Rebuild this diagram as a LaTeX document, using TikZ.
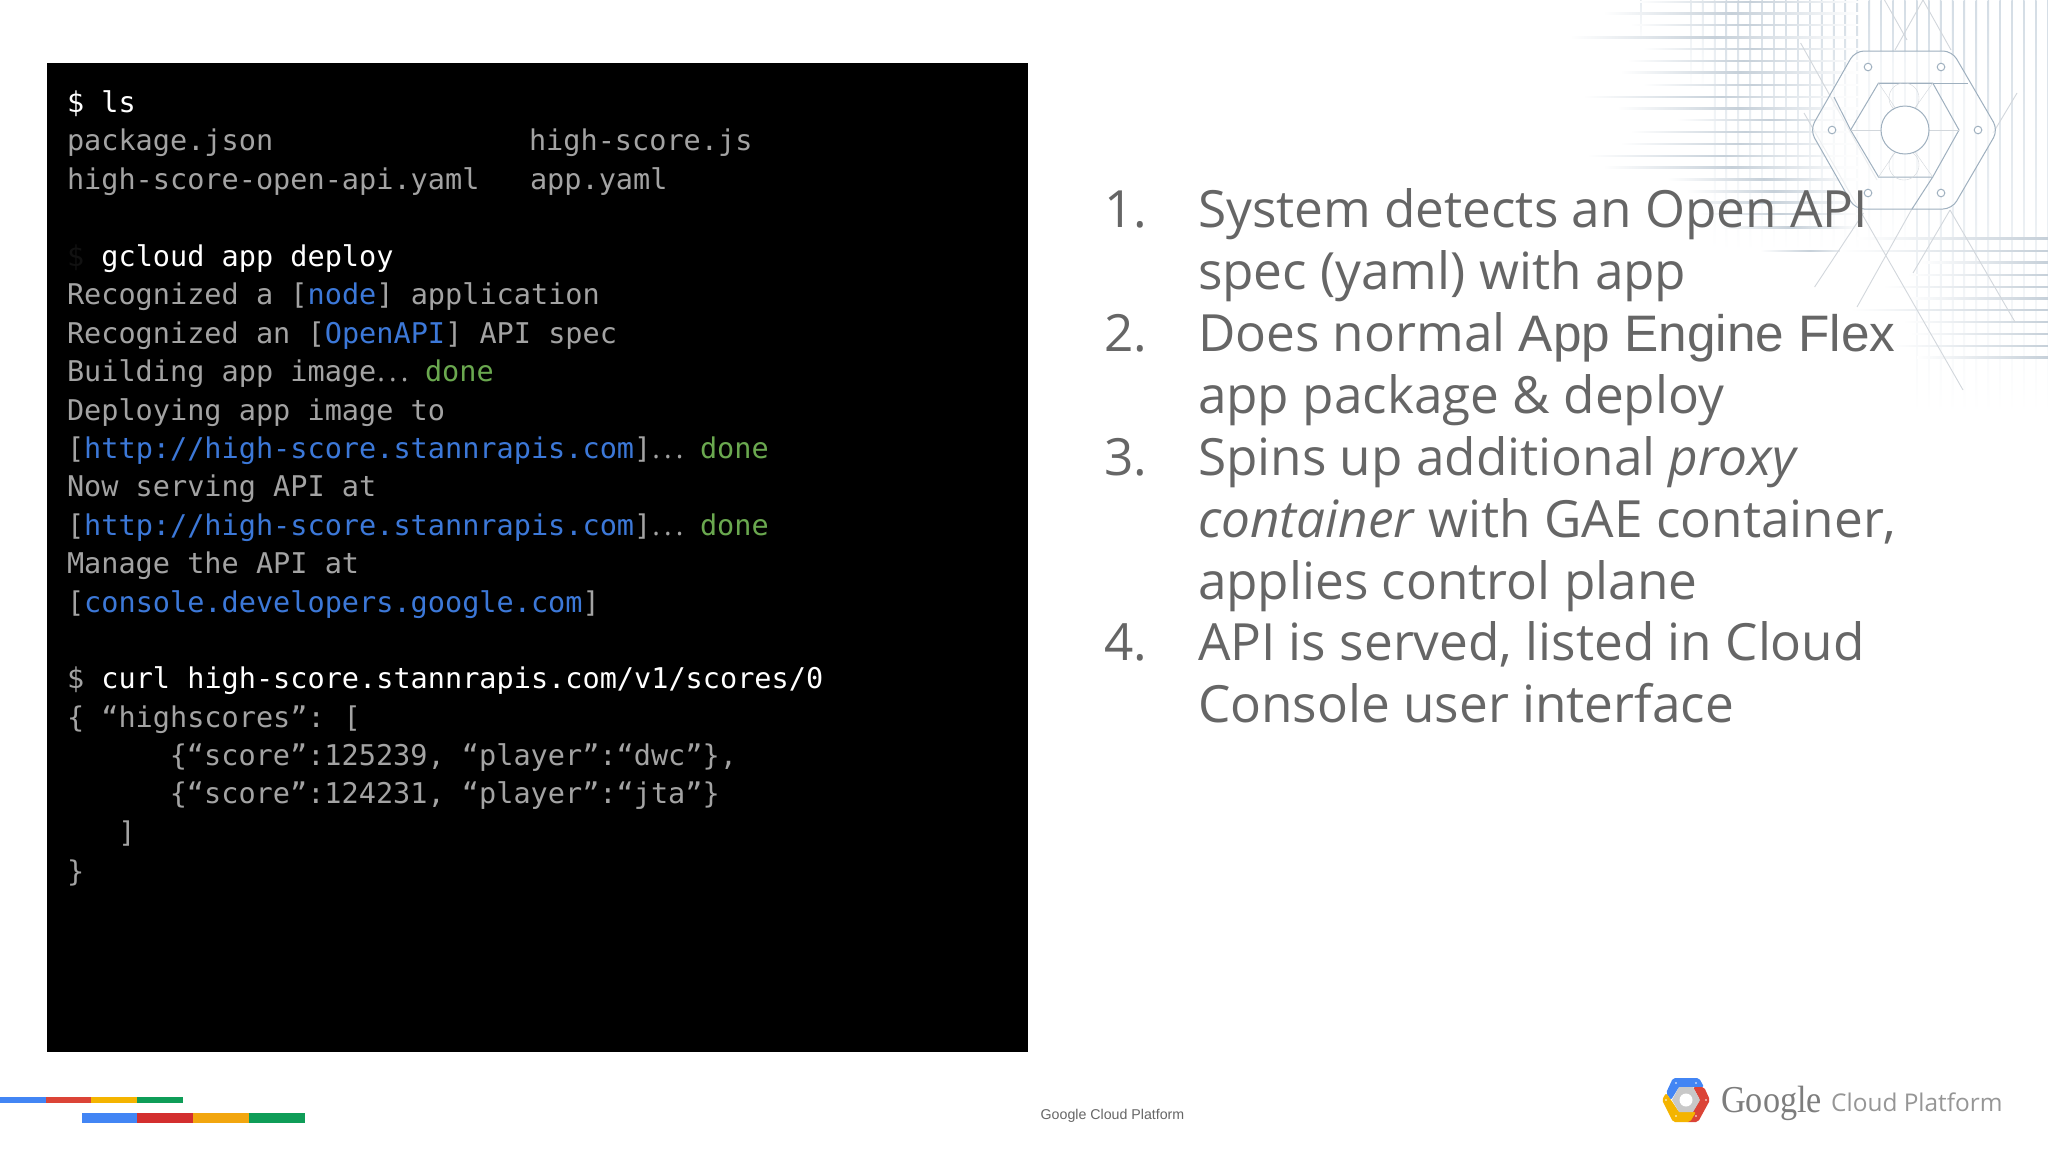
\documentclass[tikz,border=0pt]{standalone}
\usepackage{fontspec}
\usepackage{graphicx}
\setmainfont{Open Sans}
\newfontfamily\termfont{DejaVu Sans Mono}
\newfontfamily\arialfont{Liberation Sans}
\newfontfamily\seriflogo{Liberation Serif}
\definecolor{termgray}{HTML}{A3A3A3}
\definecolor{termblue}{HTML}{3C78D8}
\definecolor{termgreen}{HTML}{6AA84F}
\definecolor{bodygray}{HTML}{666666}
\definecolor{gridc}{HTML}{C6D0D9}
\definecolor{gridv}{HTML}{D4DDE5}
\definecolor{hexline}{HTML}{9FB0BF}
\definecolor{diagc}{HTML}{D2D7DC}
\tikzset{
  term/.style={anchor=base west,inner sep=0pt,outer sep=0pt,text=termgray,font=\termfont\fontsize{28.55}{30}\selectfont},
  body/.style={anchor=base west,inner sep=0pt,outer sep=0pt,text=bodygray,font=\fontsize{51.3}{60}\selectfont},
  hexl/.style={draw=hexline,line width=1pt},
  diag/.style={draw=diagc,line width=.9pt},
}
\newcommand{\cw}{\textcolor{white}}
\newcommand{\cb}{\textcolor{termblue}}
\newcommand{\cg}{\textcolor{termgreen}}
\newcommand{\dotsx}{{\fontspec{Open Sans}\kern1pt.\kern4.2pt.\kern4.2pt.}}
\begin{document}
\begin{tikzpicture}[x=1pt,y=-1pt]
\useasboundingbox (0,0) rectangle (2048,1152);
\fill[white] (0,0) rectangle (2048,1152);
% verticals
\foreach \i in {0,...,30}{
  \pgfmathsetmacro{\xx}{1690+11.9*\i}
  \pgfmathsetmacro{\en}{\i<2?90:(\i<19?250:413)}
  \pgfmathsetmacro{\sh}{\i<3?60:100}
  \shade[top color=gridv!\sh,bottom color=white] (\xx,0) rectangle (\xx+1.5,\en);
}
\shade[top color=gridv!60,bottom color=white] (1640,0) rectangle (1641.5,40);
% upper horizontals
\foreach \yy/\st in {1/1637,12.7/1603,24.3/1630,36.7/1570,48.3/1643,60/1627,71.7/1620,84/1643,96/1583,107.7/1617,119.3/1677,131.3/1630,143.3/1620,155/1587,166.7/1603,178.7/1667,190.7/1687,201.7/1680,213/1700,226.7/1720,250/1760}{
  \shade[left color=white,right color=white,middle color=gridc] (\st,\yy) rectangle (1860,\yy+1.5);
}
% lower horizontals
\foreach \yy/\st in {237.7/1857,250/1840,261.7/1920,274/1907,286/1883,297.7/1907,309.3/1850,321.3/1903,333.3/1910,345/1890,356.7/1917}{
  \shade[left color=white,right color=gridc] (\st,\yy) rectangle (2048,\yy+1.5);
}
% diagonals
\draw[diag] (1884.5,0) -- (1907,40);
\draw[diag] (1923,0) -- (1951,50);
\draw[diag] (1923,0) -- (1895,50);
\draw[diag] (1800.6,43) -- (1877,180);
\draw[diag] (1804,113) -- (1963,390);
\draw[diag] (1950,210) -- (2015,322);
\draw[diag] (1913,207) -- (1857,307);
\draw[diag] (1950,210) -- (1913,273);
\draw[diag] (1863.5,213) -- (1814.6,287);
\draw[diag] (2017,93) -- (1993,133);
% big hexagon
\fill[white,opacity=.6,rounded corners=9pt] (1810,130) -- (1855,51) -- (1952,51) -- (1998,130) -- (1952,209) -- (1855,209) -- cycle;
\draw[hexl,rounded corners=9pt] (1810,130) -- (1855,51) -- (1952,51) -- (1998,130) -- (1952,209) -- (1855,209) -- cycle;
\draw[hexl] (1850.6,130) -- (1878.5,83) -- (1932.7,83) -- (1959,130) -- (1932.7,177) -- (1878.5,177) -- cycle;
\draw[hexl] (1878.5,83) -- (1968,83);
\draw[hexl] (1834,97) -- (1850.6,130);
\draw[hexl] (1932.7,177) -- (1912,209);
\draw[diagc] (1904,98) circle (15);
\draw[diagc] (1904,165) circle (15);
\draw[diagc] (1850.6,130) -- (1959,130);
\draw[diagc] (1878.5,83) -- (1900,115) (1932.7,83) -- (1910,115) (1878.5,177) -- (1900,145) (1932.7,177) -- (1910,145);
\draw[hexl,fill=white] (1905,130) circle (24);
\foreach \px/\py in {1868/67,1941/67,1832/130,1978/130,1868/193,1941/193}{
  \draw[hexl,fill=white] (\px,\py) circle (3.8);
}
% terminal
\fill[black] (47,63) rectangle (1028,1052);
\node[term] (l0) at (67,112) {\cw{\$ ls}};
\node[term] (l1) at (67,150.8) {package.json};
\node[term] (l1b) at (529,150.8) {high-score.js};
\node[term] (l2) at (67,189.4) {high-score-open-api.yaml};
\node[term] (l2b) at (530,189.4) {app.yaml};
\node[term] (l4) at (67,266.2) {\textcolor[HTML]{111111}{\$} \cw{gcloud app deploy}};
\node[term] (l5) at (67,304.6) {Recognized a [\cb{node}] application};
\node[term] (l6) at (67,343.1) {Recognized an [\cb{OpenAPI}] API spec};
\node[term] (l7) at (67,381.5) {Building app image\dotsx};
\node[term] (l7b) at (425,381.5) {\cg{done}};
\node[term] (l8) at (67,420) {Deploying app image to};
\node[term] (l9) at (67,458.4) {[\cb{http://high-score.stannrapis.com}]\dotsx};
\node[term] (l9b) at (700,458.4) {\cg{done}};
\node[term] (l10) at (67,496.9) {Now serving API at};
\node[term] (l11) at (67,535.3) {[\cb{http://high-score.stannrapis.com}]\dotsx};
\node[term] (l11b) at (700,535.3) {\cg{done}};
\node[term] (l12) at (67,573.8) {Manage the API at};
\node[term] (l13) at (67,612.2) {[\cb{console.developers.google.com}]};
\node[term] (l15) at (67,688.9) {\$ \cw{curl high-score.stannrapis.com/v1/scores/0}};
\node[term] (l16) at (67,727.2) {\{ “highscores”:\kern-4pt{} [};
\node[term] (l17) at (169.8,765.6) {\{“score”:125239, “player”:“dwc”\},};
\node[term] (l18) at (169.8,803.8) {\{“score”:124231, “player”:“jta”\}};
\node[term] (l19) at (118.4,842.5) {]};
\node[term] (l20) at (67,881) {\}};
% list
\node[body] (n1) at (1104,227) {1.};
\node[body] (a1) at (1198,227) {System detects an Open API};
\node[body] (a2) at (1198,289) {spec (yaml) with app};
\node[body] (n2) at (1104,351) {2.};
\node[body] (b1) at (1198,351) {Does normal {\arialfont App Engine Flex}};
\node[body] (b2) at (1198,413) {app package \& deploy};
\node[body] (n3) at (1104,475) {3.};
\node[body] (c1) at (1198,475) {Spins up additional \textit{proxy}};
\node[body] (c2) at (1198,537) {\textit{container} with GAE container,};
\node[body] (c3) at (1198,599) {applies control plane};
\node[body] (n4) at (1104,660.5) {4.};
\node[body] (d1) at (1198,660.5) {API is served, listed in Cloud};
\node[body] (d2) at (1198,722.5) {Console user interface};
% colour bars
\fill[fill={rgb,255:red,66;green,133;blue,244}] (0,1097) rectangle (46,1103);
\fill[fill={rgb,255:red,219;green,68;blue,55}] (46,1097) rectangle (91,1103);
\fill[fill={rgb,255:red,244;green,180;blue,0}] (91,1097) rectangle (137,1103);
\fill[fill={rgb,255:red,15;green,157;blue,88}] (137,1097) rectangle (183,1103);
\fill[fill={rgb,255:red,66;green,133;blue,244}] (81.5,1113) rectangle (137,1123);
\fill[fill={rgb,255:red,211;green,47;blue,47}] (137,1113) rectangle (193,1123);
\fill[fill={rgb,255:red,242;green,166;blue,15}] (193,1113) rectangle (249,1123);
\fill[fill={rgb,255:red,15;green,157;blue,88}] (249,1113) rectangle (305,1123);
% footer
\node[anchor=base,inner sep=0pt,text=bodygray,font=\arialfont\fontsize{14.2}{16}\selectfont] (foot) at (1112.5,1119) {Google Cloud Platform};
% logo
\fill[fill={rgb,255:red,66;green,133;blue,244},rounded corners=2pt] (1673,1078) -- (1699,1078) -- (1704,1087) -- (1679,1087) -- (1671,1100) -- (1666,1093) -- cycle;
\fill[fill={rgb,255:red,219;green,68;blue,55},rounded corners=2pt] (1693,1087) -- (1704,1087) -- (1710,1100) -- (1698,1122) -- (1686,1122) -- (1700,1100) -- cycle;
\fill[fill={rgb,255:red,244;green,180;blue,0},rounded corners=2pt] (1666,1093) -- (1662,1100) -- (1673,1122) -- (1690,1122) -- (1696,1112) -- (1679,1112) -- (1671,1100) -- cycle;
\fill[fill={rgb,255:red,200;green,200;blue,200}] (1672,1100) -- (1679,1087) -- (1693,1087) -- (1700,1100) -- (1693,1112) -- (1679,1112) -- cycle;
\fill[white] (1686,1100) circle (6.5);
\foreach \px/\py in {1676/1083,1696/1083,1666/1100,1706/1100,1676/1116,1696/1116}{\fill[white] (\px,\py) circle (.9);}
\node[anchor=base west,inner sep=0pt,text={rgb,255:red,125;green,125;blue,125},font=\seriflogo\fontsize{38}{44}\selectfont] (g) at (1721,1112) {\scalebox{.9}[1]{Google}};
\node[anchor=base west,inner sep=0pt,text={rgb,255:red,150;green,150;blue,150},font=\fontsize{24.4}{28}\selectfont] (cp) at (1831,1111) {Cloud Platform};
\end{tikzpicture}
\end{document}
